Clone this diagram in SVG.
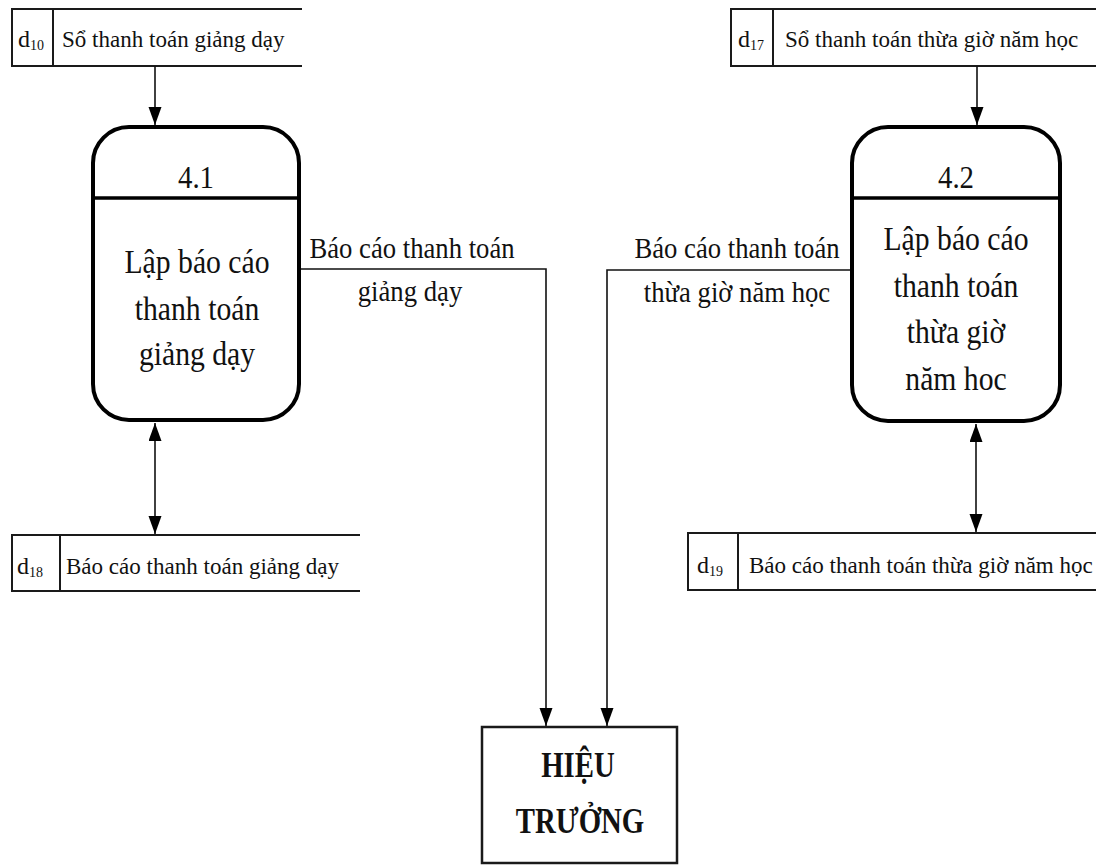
<svg xmlns="http://www.w3.org/2000/svg" width="1096" height="868" viewBox="0 0 1096 868">
  <style>
    .store { fill: none; stroke: #1a1a1a; stroke-width: 2; }
    .proc { fill: #ffffff; stroke: #000000; stroke-width: 4; }
    .divider { stroke: #000000; stroke-width: 3.5; }
    .ext { fill: #ffffff; stroke: #1a1a1a; stroke-width: 2.5; }
    .flow { fill: none; stroke: #111111; stroke-width: 1.6; }
    .st, .dl, .num, .pt, .fl, .et { font-family: 'Liberation Serif', 'Times New Roman', 'DejaVu Serif', serif; fill: #111111; }
    .st { font-size: 24px; }
    .dl { font-size: 24px; }
    .sub { font-size: 14px; }
    .num { font-size: 32px; text-anchor: middle; }
    .pt { font-size: 33px; text-anchor: middle; }
    .fl { font-size: 29px; text-anchor: middle; }
    .et { font-size: 36px; font-weight: bold; text-anchor: middle; }
  </style>
  <defs>
    <marker id="head" markerUnits="userSpaceOnUse" markerWidth="20" markerHeight="14" refX="18" refY="6.5" orient="auto-start-reverse">
      <path d="M0,0 L18,6.5 L0,13 Z" fill="#000000"/>
    </marker>
  </defs>

  <rect width="1096" height="868" fill="#ffffff"/>

  <!-- data store d10 -->
  <g id="store-d10">
    <path class="store" d="M302,9 H12 V66 H302 M53,9 V66"/>
    <text class="dl" x="18" y="47">d<tspan class="sub" dy="3">10</tspan></text>
    <text class="st" transform="translate(62 47) scale(0.96 1)">Sổ thanh toán giảng dạy</text>
  </g>

  <!-- data store d17 -->
  <g id="store-d17">
    <path class="store" d="M1096,9 H731 V66 H1096 M773,9 V66"/>
    <text class="dl" x="738" y="47">d<tspan class="sub" dy="3">17</tspan></text>
    <text class="st" transform="translate(785 47) scale(0.96 1)">Sổ thanh toán thừa giờ năm học</text>
  </g>

  <!-- data store d18 -->
  <g id="store-d18">
    <path class="store" d="M360,535 H12 V591 H360 M60,535 V591"/>
    <text class="dl" x="17" y="574">d<tspan class="sub" dy="3">18</tspan></text>
    <text class="st" transform="translate(66 574) scale(0.96 1)">Báo cáo thanh toán giảng dạy</text>
  </g>

  <!-- data store d19 -->
  <g id="store-d19">
    <path class="store" d="M1096,533 H688 V590 H1096 M738,533 V590"/>
    <text class="dl" x="697" y="573">d<tspan class="sub" dy="3">19</tspan></text>
    <text class="st" transform="translate(749 573) scale(0.96 1)">Báo cáo thanh toán thừa giờ năm học</text>
  </g>

  <!-- process 4.1 -->
  <g id="process-4-1">
    <rect class="proc" x="93" y="127" width="206" height="293" rx="36" ry="36"/>
    <line class="divider" x1="93" y1="198" x2="299" y2="198"/>
    <text class="num" transform="translate(196 188) scale(0.9 1)">4.1</text>
    <text class="pt" transform="translate(197 273) scale(0.9 1)">Lập báo cáo</text>
    <text class="pt" transform="translate(197 320) scale(0.9 1)">thanh toán</text>
    <text class="pt" transform="translate(197 365) scale(0.9 1)">giảng dạy</text>
  </g>

  <!-- process 4.2 -->
  <g id="process-4-2">
    <rect class="proc" x="852" y="127" width="208" height="294" rx="36" ry="36"/>
    <line class="divider" x1="852" y1="198" x2="1060" y2="198"/>
    <text class="num" transform="translate(956 188) scale(0.9 1)">4.2</text>
    <text class="pt" transform="translate(956 250) scale(0.9 1)">Lập báo cáo</text>
    <text class="pt" transform="translate(956 297) scale(0.9 1)">thanh toán</text>
    <text class="pt" transform="translate(956 343) scale(0.9 1)">thừa giờ</text>
    <text class="pt" transform="translate(956 390) scale(0.9 1)">năm hoc</text>
  </g>

  <!-- external entity -->
  <g id="hieu-truong">
    <rect class="ext" x="482" y="727" width="195" height="136"/>
    <text class="et" transform="translate(578 777) scale(0.8 1)">HIỆU</text>
    <text class="et" transform="translate(580 833) scale(0.8 1)">TRƯỞNG</text>
  </g>

  <!-- data flows -->
  <g id="connectors">
    <line class="flow" x1="155" y1="66" x2="155" y2="125" marker-end="url(#head)"/>
    <line class="flow" x1="977" y1="66" x2="977" y2="125" marker-end="url(#head)"/>
    <line class="flow" x1="155" y1="423" x2="155" y2="534" marker-start="url(#head)" marker-end="url(#head)"/>
    <line class="flow" x1="976" y1="424" x2="976" y2="532" marker-start="url(#head)" marker-end="url(#head)"/>
    <polyline class="flow" points="301,269 546,269 546,726" marker-end="url(#head)"/>
    <polyline class="flow" points="850,270 607,270 607,726" marker-end="url(#head)"/>
    <text class="fl" transform="translate(412 258) scale(0.92 1)">Báo cáo thanh toán</text>
    <text class="fl" transform="translate(410 301) scale(0.92 1)">giảng dạy</text>
    <text class="fl" transform="translate(737 258) scale(0.92 1)">Báo cáo thanh toán</text>
    <text class="fl" transform="translate(737 302) scale(0.92 1)">thừa giờ năm học</text>
  </g>
</svg>
